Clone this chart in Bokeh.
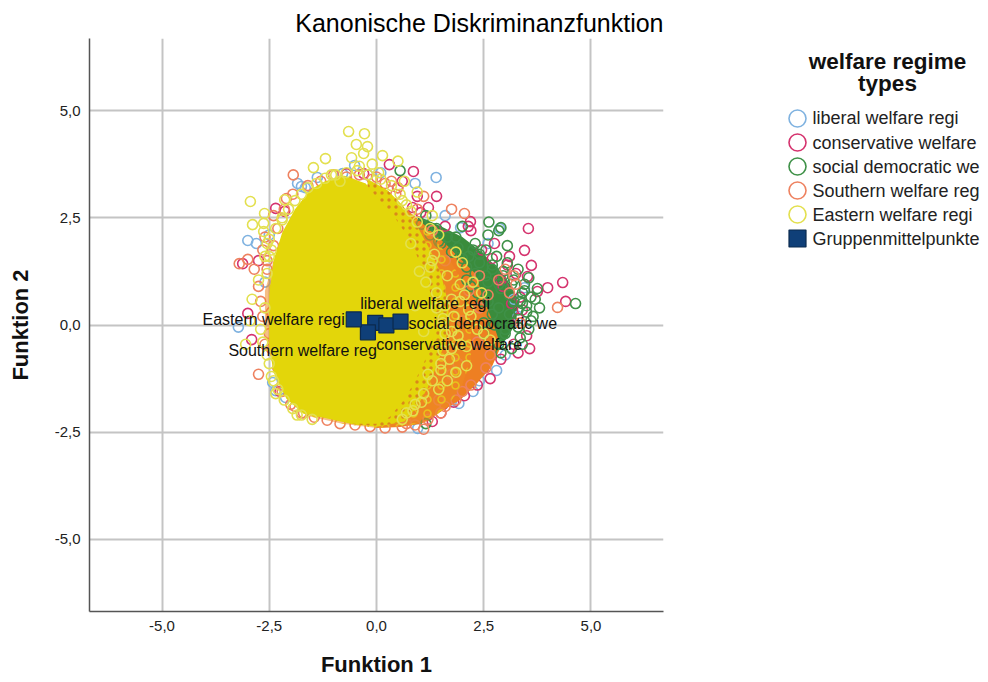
from bokeh.plotting import figure
from bokeh.layouts import row
from bokeh.models import ColumnDataSource, Range1d, FixedTicker
from bokeh.embed import file_html
from bokeh.resources import INLINE

title_text = "Kanonische Diskriminanzfunktion"
legend_title_lines = ["welfare regime", "types"]
x_label = "Funktion 1"
y_label = "Funktion 2"
ticks = [-5.0, -2.5, 0.0, 2.5, 5.0]
tick_labels = ["-5,0", "-2,5", "0,0", "2,5", "5,0"]
groups = ["liberal welfare regi", "conservative welfare", "social democratic we", "Southern welfare reg", "Eastern welfare regi"]
colors = ["#7FB2E0", "#D5336E", "#3F9148", "#EE8260", "#E3E04F"]

centroid_x = [-0.03, 0.23, 0.56, -0.20, -0.53]
centroid_y = [0.05, -0.01, 0.08, -0.17, 0.13]
centroid_dx = [-15, -10, 8, 9, -9]
centroid_dy = [-19, 19, 2, 18, 0]
centroid_align = ["left", "left", "left", "right", "right"]

green_core_x = [0.95, 1.5, 2.0, 2.45, 2.85, 3.15, 3.3, 3.25, 3.05, 2.8, 2.4, 1.8, 1.2]
green_core_y = [2.55, 2.3, 2.05, 1.7, 1.3, 0.9, 0.45, 0.05, -0.3, -0.6, -0.5, 0.2, 1.2]
orange_core_x = [0.7, 1.1, 1.6, 1.95, 2.3, 2.5, 2.7, 2.9, 2.7, 2.35, 1.95, 1.45, 1.05, 0.55, 0.0]
orange_core_y = [2.7, 2.35, 1.9, 1.55, 1.2, 0.6, 0.1, -0.5, -0.95, -1.35, -1.75, -2.05, -2.3, -2.38, -2.4]
ring_core_x = [0.7, 1.1, 1.6, 1.95, 2.15, 2.2, 2.2, 2.0, 1.65, 1.2, 0.7, 0.0, -0.8, -1.6, -2.0, -2.4, -2.6, -2.6, -2.4, -2.1, -1.6, -0.6]
ring_core_y = [2.7, 2.3, 1.7, 1.1, 0.5, -0.1, -0.8, -1.4, -1.9, -2.25, -2.35, -2.4, -2.3, -2.12, -1.75, -1.0, -0.2, 0.8, 1.5, 2.3, 3.0, 3.45]
speckle_core_x = [-0.2, 0.25, 0.6, 0.95, 1.25, 1.5, 1.65, 1.7, 1.6, 1.4, 1.2, 0.95, 0.65, 0.0, -0.6]
speckle_core_y = [3.4, 3.15, 2.8, 2.3, 1.75, 1.2, 0.6, 0.1, -0.4, -0.95, -1.45, -1.9, -2.25, -2.37, -2.3]
yellow_core_x = [-2.5, -2.5, -2.4, -2.2, -1.9, -1.55, -1.2, -0.75, -0.25, 0.1, 0.4, 0.7, 0.95, 1.15, 1.3, 1.4, 1.3, 1.1, 0.85, 0.6, 0.3, 0.0, -0.6, -1.2, -1.7, -2.1, -2.4, -2.5]
yellow_core_y = [0.0, 0.7, 1.5, 2.15, 2.7, 3.15, 3.35, 3.48, 3.3, 2.85, 2.55, 2.1, 1.6, 1.1, 0.6, 0.1, -0.4, -0.9, -1.4, -1.8, -2.15, -2.3, -2.3, -2.17, -2.07, -1.72, -1.1, -0.5]

liberal_x = [-1.84, -1.75, -1.66, -1.38, -3.0, -2.8, -0.51, -0.79, 1.39, 1.96, -3.22, -2.42, -2.35, -2.12, 1.92, 2.8, 0.96, 3.45, 2.87, 3.2, 2.6, 3.0, 0.1, -2.6, -2.5, 2.4, 1.6, 3.3, 0.9, -0.2, 1.75, 2.25]
liberal_y = [3.3, 3.23, 3.2, 3.44, 1.97, 1.9, 3.72, 3.53, 3.44, 2.27, -0.05, -1.34, -1.53, -1.69, -1.83, -1.06, -2.41, 0.87, 2.25, 0.6, 1.9, -0.7, 3.55, 1.0, 2.1, -1.3, 2.55, 0.2, 3.3, 3.5, -1.78, -1.55]
conservative_x = [0.3, -0.3, -0.7, -3.12, -2.35, -2.14, 0.49, 0.86, 1.4, 1.21, 1.03, 0.84, 2.19, 2.14, 3.54, 3.45, 3.61, 3.52, 4.34, 3.99, 3.75, 4.41, 3.57, -3.0, -2.91, 2.9, 3.2, 3.3, 2.5, 2.75, 2.3, 1.8, 1.55, 3.1, 3.35, 2.95, 1.2, 0.95, 0.6, 1.6, -2.25, -2.75, 2.2, 2.45, 2.7, 3.05, 3.25, 3.4, 3.5, 3.3, 3.15, 2.9, 2.65, 2.35, 2.05, 1.8, 1.5, 1.3]
conservative_y = [3.74, 3.53, 3.53, 1.43, 2.72, 2.65, 3.2, 3.58, 3.0, 2.74, 2.62, 2.74, 2.41, 2.3, 2.25, 1.74, 1.39, 1.13, 0.99, 0.87, 0.78, 0.55, -0.55, 0.27, -0.34, -0.8, -0.45, 0.15, -1.0, 1.9, -1.15, -1.5, -1.85, 1.6, 0.65, 0.9, -2.1, 3.0, 3.35, 2.3, -1.55, 1.5, 2.2, 1.75, 1.55, 1.4, 1.2, 0.35, -0.25, -0.65, 0.5, 1.05, -1.25, -1.4, -1.65, -1.8, -2.05, -2.25]
social_x = [4.64, 2.62, 2.9, 2.85, 2.3, 2.55, 2.8, 3.05, 3.3, 3.55, 3.75, 3.4, 3.15, 2.95, 2.7, 2.4, 2.15, 1.9, 1.65, 1.4, 1.15, 2.0, 2.3, 2.6, 2.9, 3.2, 3.5, 3.8, 3.6, 3.3, 3.0, 2.7, 2.45, 2.2, 1.85, 2.1, 2.5, 2.85, 3.15, 1.15, 3.35, 0.55, 1.45, 2.6, 3.05, 2.4, 2.7, 2.95, 3.2, 3.45, 3.35, 3.1, 2.85, 2.55, 2.25, 2.0, 1.75, 1.5, 1.25, 1.05, 2.1, 2.35, 2.6, 2.85, 3.1, 2.75, 3.0, 3.2, 2.5, 2.9, 3.45, 3.6, 3.5, 3.65, 3.4, 3.7, 3.55, 3.3, 3.4]
social_y = [0.5, 2.4, 2.27, 2.2, 1.9, 1.75, 1.6, 1.45, 1.3, 1.1, 0.85, 0.75, 0.95, 1.15, 1.3, 1.45, 1.6, 1.8, 2.05, 2.25, 2.55, 2.3, 1.2, 1.0, 0.85, 0.55, 0.45, 0.4, 0.1, -0.05, -0.2, 0.25, 0.55, 0.9, 2.05, 1.35, 0.05, -0.45, -0.55, -2.3, -0.3, 3.6, 1.95, 2.1, 1.85, 1.65, 1.4, 1.25, 1.05, 0.8, 0.55, 0.7, 0.95, 1.15, 1.75, 1.55, 1.7, 1.9, 2.1, 2.35, 1.05, 0.75, 0.55, 0.4, 0.25, 0.0, -0.1, 0.05, -0.2, -0.65, 0.95, 0.65, 0.3, 0.2, 0.5, 0.6, -0.1, 0.35, -0.45]
southern_x = [-1.94, -3.2, -3.0, -2.85, -2.55, -2.75, -2.7, -2.65, -2.5, -2.45, -2.3, -2.2, 1.1, 0.9, 1.5, 1.85, 2.2, 2.55, 2.35, 2.0, 1.7, 1.35, 1.15, 0.75, 3.2, 3.0, 2.05, 1.75, 2.4, 2.15, 2.6, 1.9, 2.65, 4.22, 1.1, -2.6, -2.4, -2.1, -1.9, -1.7, 0.0, 0.35, 0.5, 0.95, 1.3, 1.6, -2.75, -2.45, -2.6, -2.55, -2.65, -2.4, -2.3, -2.15, -1.95, -1.6, -1.3, -1.0, -0.7, -0.4, -0.1, 0.2, 0.45, 0.7, -2.2, -2.0, -1.75, -1.45, -1.15, -0.85, -0.5, -0.15, 0.6, 0.2, 3.35, 3.25, 3.1, 2.85, 2.4, 1.2, 1.6, 2.0, 1.75, 1.45]
southern_y = [3.5, 1.43, 1.53, 1.3, 1.3, 0.9, 0.55, 0.2, -0.2, -0.55, -1.0, -1.4, -2.43, -2.33, -2.05, -1.75, -1.4, -1.0, -0.4, 0.1, 0.6, 1.25, 1.7, 2.35, 1.15, 1.3, 2.6, 2.7, 0.4, 0.8, 0.7, -0.9, -0.7, 0.41, 3.0, 2.05, 2.55, 2.95, -1.9, -2.05, 3.45, 3.35, 3.2, 2.7, 2.2, 1.5, -1.15, 0.3, -0.45, 1.5, 1.75, 1.85, 2.25, 2.7, 3.05, 3.25, 3.35, 3.5, 3.45, 3.5, 3.4, 3.3, 3.05, -2.3, -1.55, -1.85, -2.05, -2.15, -2.22, -2.3, -2.33, -2.37, -2.38, -2.4, 0.05, 0.95, 0.75, 1.05, 1.15, -2.2, -1.9, -1.55, -1.15, -1.75]
eastern_x = [-0.65, -0.28, -0.47, -0.21, -0.30, -0.58, 0.14, -1.19, -1.47, -2.14, -2.94, -2.89, -2.63, -2.63, -2.61, -0.4, -0.1, 0.5, 0.65, 0.95, 1.3, -2.75, -2.9, -3.05, -2.7, -2.5, -2.55, -2.95, -2.6, -2.45, -2.2, -1.85, 1.55, 1.75, 1.95, 2.15, 2.35, 1.95, 1.55, 1.75, 2.0, 2.25, 2.45, 1.65, 1.85, 1.45, 1.25, 1.35, 1.15, 0.95, 0.8, 0.6, 1.5, 1.65, 1.45, 1.05, 1.2, 0.85, 0.6, 1.4, 1.1, 0.9, 2.5, 2.65, 2.1, 1.3, -2.35, 0.05, -0.85, -1.05, -2.5, -2.35, -2.2, -2.05, -1.9, -1.75, -1.6, -1.4, -1.2, -0.95, -0.7, -0.45, -0.2, 0.1, 0.35, 0.55, 0.7, -2.55, -2.6, -2.65, -2.55, -2.45, -2.5, -2.4, -2.3, -2.15, -1.95, -1.75, -1.5, 1.6, 1.8, 1.7, 1.5, 1.3, 1.1, 0.9, 0.7, 1.95, 2.1, 1.85, 1.6, 1.4, 1.25, 1.0, 0.8, 1.75, 1.55, 1.9, 2.2, 2.05]
eastern_y = [4.51, 4.46, 4.21, 4.16, 4.0, 3.9, 3.95, 3.88, 3.67, 2.92, 2.88, 2.34, 2.37, 2.18, 2.6, 3.7, 3.75, 3.82, 3.35, 3.1, 2.55, 1.05, 0.6, -0.45, -0.1, -0.9, 1.9, 0.1, 1.6, 1.75, 2.45, -2.1, 0.15, 0.6, 0.95, 0.35, -0.1, -0.45, -0.6, -0.15, 1.45, 1.0, 0.75, 1.15, 1.7, 2.1, 2.25, 1.65, 1.0, 2.4, 2.65, 2.9, -0.9, -1.3, -1.5, -1.8, -1.15, -2.0, -2.2, 0.4, -0.15, 0.45, -0.2, -0.35, -0.95, 1.5, -1.6, 3.55, 3.35, 3.5, 2.0, 2.25, 2.5, 2.7, 2.9, 3.05, 3.2, 3.3, 3.42, 3.5, 3.55, 3.6, 3.5, 3.4, 3.25, 3.05, 2.8, 1.2, 0.4, -0.4, -0.7, -1.2, 1.6, -1.3, -1.5, -1.75, -1.95, -2.1, -2.2, -0.2, 0.2, -0.8, -1.05, -1.3, -1.6, -1.85, -2.05, 0.55, -0.5, -1.1, 0.45, 0.75, 1.35, 1.25, 1.9, -0.55, 0.05, -0.25, 0.2, 0.7]

series = [
    (liberal_x, liberal_y), (conservative_x, conservative_y), (social_x, social_y),
    (southern_x, southern_y), (eastern_x, eastern_y),
]

p = figure(width=685, height=681, output_backend="svg", toolbar_location=None,
           x_range=Range1d(-6.69, 6.69), y_range=Range1d(-6.68, 6.68),
           min_border_left=89, min_border_right=22, min_border_top=38, min_border_bottom=70)
p.background_fill_color = "white"
p.outline_line_color = None

p.title.text = title_text
p.title.align = "right"
p.title.text_font = "Liberation Sans"
p.title.text_font_size = "25px"
p.title.text_font_style = "normal"
p.title.text_color = "#000000"
p.title.offset = 0
p.title.standoff = 4

for ax, label in ((p.xaxis[0], x_label), (p.yaxis[0], y_label)):
    ax.ticker = FixedTicker(ticks=ticks)
    ax.major_label_overrides = {t: s for t, s in zip(ticks, tick_labels)}
    ax.axis_label = label
    ax.axis_label_text_font = "Liberation Sans"
    ax.axis_label_text_font_size = "22px"
    ax.axis_label_text_font_style = "bold"
    ax.axis_label_text_color = "#111111"
    ax.major_label_text_font = "Liberation Sans"
    ax.major_label_text_font_size = "15px"
    ax.major_label_text_color = "#222222"
    ax.axis_line_color = "#555555"
    ax.axis_line_width = 1.5
    ax.major_tick_line_color = None
    ax.minor_tick_line_color = None
    ax.major_tick_out = 0
    ax.major_tick_in = 0
p.xaxis.major_label_standoff = 9
p.yaxis.major_label_standoff = 9
p.xaxis.axis_label_standoff = 18
p.yaxis.axis_label_standoff = 19
for g in (p.xgrid[0], p.ygrid[0]):
    g.ticker = FixedTicker(ticks=ticks)
    g.grid_line_color = "#C4C4C4"
    g.grid_line_width = 2

def circles(i):
    xs, ys = series[i]
    return p.scatter(xs, ys, marker="circle", size=10, fill_color=None, line_color=colors[i], line_width=1.6)

p.patch(green_core_x, green_core_y, fill_color="#3A8C3C", line_color=None)
circles(0)
circles(1)
p.patch(orange_core_x, orange_core_y, fill_color="#EE7F22", line_color=None)
circles(2)
circles(3)
p.patch(ring_core_x, ring_core_y, fill_color="#EE8A22", fill_alpha=0.55, line_color=None,
        hatch_pattern="ring", hatch_color="#E9C21A", hatch_scale=14, hatch_weight=1.5)
p.patch(speckle_core_x, speckle_core_y, fill_color="#E3D60A", line_color=None,
        hatch_pattern="dot", hatch_color="#D9881A", hatch_scale=7, hatch_weight=1.2)
p.patch(yellow_core_x, yellow_core_y, fill_color="#E3D60A", line_color=None)
circles(4)

src = ColumnDataSource(dict(x=centroid_x, y=centroid_y, name=groups, dx=centroid_dx, dy=centroid_dy, align=centroid_align))
p.scatter("x", "y", source=src, marker="square", size=15, fill_color="#0F3F78", line_color="#0B2A4E", line_width=1.2)
p.text("x", "y", text="name", source=src, x_offset="dx", y_offset="dy", text_align="align",
       text_baseline="middle", text_font_size="16px", text_color="#111111",
       text_font={"value": "Liberation Sans"})

# legend drawn as its own small figure, so its marks can be as large as in the reference
legend_labels = groups + ["Gruppenmittelpunkte"]
legend_rows = list(range(6))
lg = figure(width=300, height=681, output_backend="svg", toolbar_location=None,
            x_axis_location=None, y_axis_location=None,
            x_range=Range1d(685, 985), y_range=Range1d(20.54, -3.333),
            min_border_left=0, min_border_right=0, min_border_top=0, min_border_bottom=0)
lg.grid.visible = False
lg.outline_line_color = None
lg.scatter([797] * 5, legend_rows[:5], marker="circle", size=17, fill_color=None, line_color=colors, line_width=1.6)
lg.scatter([797], legend_rows[5:], marker="square", size=17, fill_color="#0F3F78", line_color="#0B2A4E", line_width=1.2)
lg.text([812] * 6, legend_rows, text=legend_labels, text_baseline="middle", text_font_size="18px",
        text_color="#222222", text_font={"value": "Liberation Sans"})
lg.text([887, 887], [-2.375, -1.458], text=legend_title_lines, text_align="center", text_baseline="middle",
        text_font_size="22.5px", text_font_style="bold", text_color="#111111", text_font={"value": "Liberation Sans"})

open("out.html", "w").write(file_html(row(p, lg), INLINE))
